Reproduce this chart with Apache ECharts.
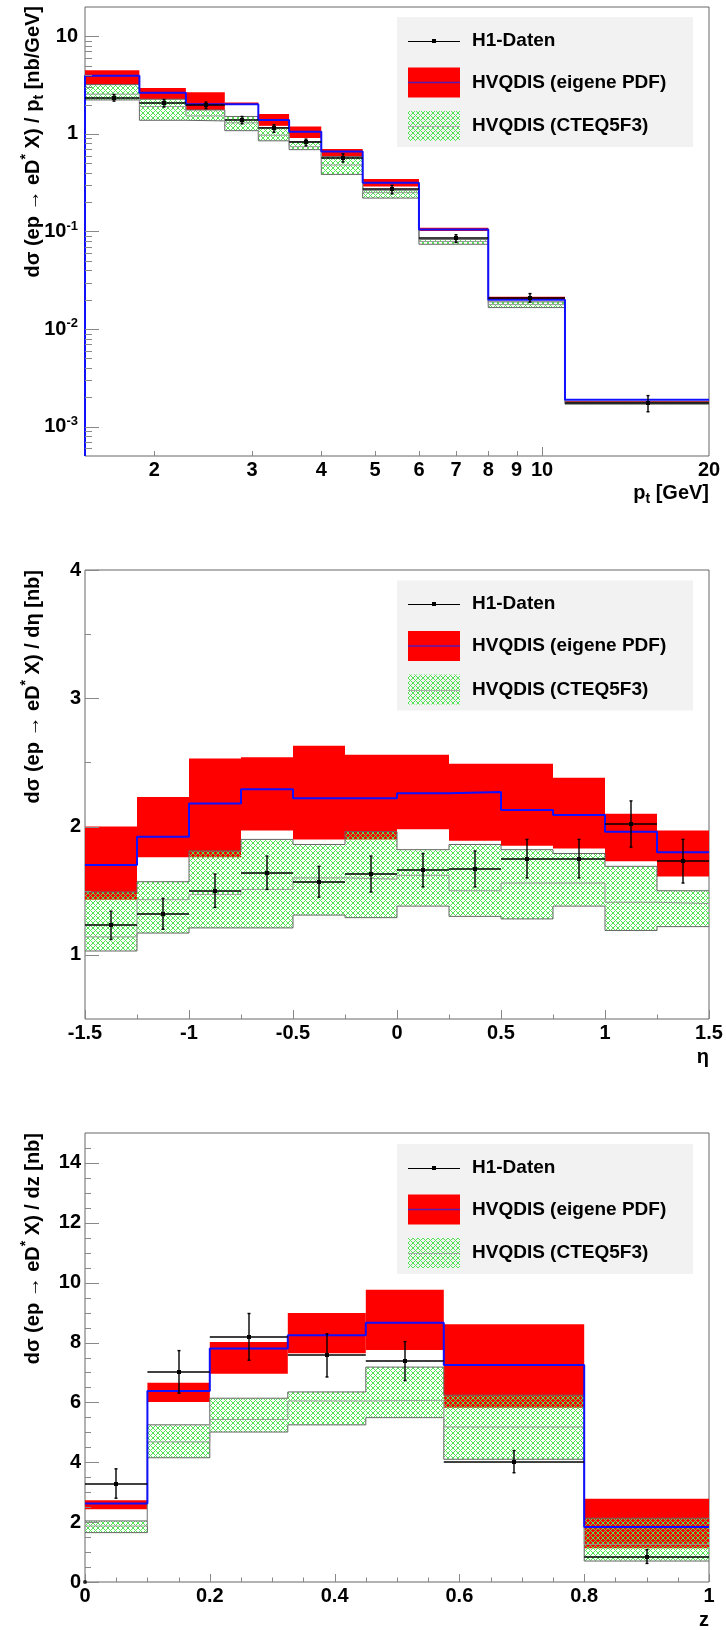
<!DOCTYPE html>
<html>
<head>
<meta charset="utf-8">
<script src="https://cdn.jsdelivr.net/npm/echarts@6/dist/echarts.min.js"></script>
<style>
  html, body { margin: 0; padding: 0; background: #fff; }
  #chart { width: 726px; height: 1630px; }
</style>
</head>
<body>
<div id="chart"></div>
<script>
// --- p_t spectrum ---
const ptEdges = [1.5, 1.88, 2.28, 2.68, 3.08, 3.5, 4.0, 4.75, 6, 8, 11, 20];
const ptEigHi = [4.5, 2.95, 2.68, 2.10, 1.60, 1.19, 0.70, 0.345, 0.109, 0.0215, 0.00183];
const ptEigMid = [3.95, 2.65, 2.02, 2.02, 1.39, 1.05, 0.66, 0.316, 0.105, 0.0200, 0.00189];
const ptEigLo = [3.2, 2.27, 1.76, 1.98, 1.21, 0.91, 0.585, 0.29, 0.101, 0.0198, 0.00176];
const ptCtqHi = [3.2, 2.27, 1.76, 1.51, 1.16, 0.83, 0.585, 0.265, 0.083, 0.0190, 0.00179];
const ptCtqMid = [2.56, 1.91, 1.53, 1.30, 0.97, 0.74, 0.48, 0.25, 0.079, 0.0178, 0.00174];
const ptCtqLo = [2.23, 1.38, 1.36, 1.08, 0.85, 0.69, 0.385, 0.22, 0.074, 0.0166, 0.00170];
const ptData = [2.35, 2.07, 1.97, 1.39, 1.14, 0.82, 0.57, 0.27, 0.085, 0.021, 0.00175];
const ptErr = [0.18, 0.18, 0.15, 0.12, 0.10, 0.065, 0.055, 0.027, 0.0077, 0.0021, 0.00033];
const ptRangeX = [1.5, 20];
const ptRangeY = [5e-4, 20];
const ptXShortTicks = [2, 3, 4, 5, 6, 7, 8, 9];
const ptXLongTicks = [10];
const ptXLabels = [2, 3, 4, 5, 6, 7, 8, 9, 10, 20];
const ptYMajor = [1e-3, 1e-2, 1e-1, 1, 10];

// --- eta spectrum ---
const etaEdges = [-1.5, -1.25, -1, -0.75, -0.5, -0.25, 0, 0.25, 0.5, 0.75, 1, 1.25, 1.5];
const etaEigHi = [2.00, 2.23, 2.53, 2.54, 2.63, 2.56, 2.56, 2.49, 2.49, 2.38, 2.10, 1.97];
const etaEigMid = [1.70, 1.92, 2.18, 2.29, 2.22, 2.22, 2.26, 2.27, 2.13, 2.09, 1.96, 1.80];
const etaEigLo = [1.43, 1.76, 1.76, 1.97, 1.90, 1.90, 1.98, 1.89, 1.85, 1.83, 1.73, 1.61];
const etaCtqHi = [1.49, 1.57, 1.81, 1.90, 1.86, 1.96, 1.82, 1.86, 1.82, 1.79, 1.69, 1.50];
const etaCtqMid = [1.14, 1.43, 1.47, 1.51, 1.60, 1.59, 1.62, 1.50, 1.56, 1.56, 1.41, 1.40];
const etaCtqLo = [1.03, 1.17, 1.21, 1.21, 1.31, 1.29, 1.38, 1.30, 1.28, 1.38, 1.19, 1.22];
const etaData = [1.23, 1.32, 1.50, 1.64, 1.57, 1.63, 1.66, 1.67, 1.75, 1.75, 2.02, 1.73];
const etaErr = [0.11, 0.12, 0.13, 0.13, 0.12, 0.14, 0.13, 0.14, 0.15, 0.15, 0.18, 0.17];
const etaRangeX = [-1.5, 1.5];
const etaRangeY = [0.5, 4];
const etaXMajor = [-1.5, -1, -0.5, 0, 0.5, 1, 1.5];
const etaXMinor = [-1.25, -0.75, -0.25, 0.25, 0.75, 1.25];
const etaYMajor = [1, 2, 3, 4];
const etaYMinor = [1.5, 2.5, 3.5];

// --- z spectrum ---
const zEdges = [0, 0.1, 0.2, 0.325, 0.45, 0.575, 0.8, 1.0];
const zEigHi = [2.73, 6.66, 8.02, 8.99, 9.76, 8.61, 2.78];
const zEigMid = [2.62, 6.38, 7.80, 8.24, 8.66, 7.25, 1.84];
const zEigLo = [2.43, 6.01, 6.96, 7.64, 7.75, 5.82, 1.13];
const zCtqHi = [2.04, 5.25, 6.14, 6.35, 7.18, 6.24, 2.13];
const zCtqMid = [1.87, 4.68, 5.43, 6.05, 6.07, 5.18, 1.26];
const zCtqLo = [1.65, 4.15, 5.01, 5.25, 5.49, 4.10, 0.70];
const zData = [3.29, 7.02, 8.19, 7.57, 7.38, 4.02, 0.85];
const zErr = [0.49, 0.71, 0.78, 0.72, 0.65, 0.37, 0.23];
const zOriginPoint = [0, 0];
const zRangeX = [0, 1];
const zRangeY = [0, 15];
const zXMajor = [0, 0.2, 0.4, 0.6, 0.8, 1];
const zYMajor = [0, 2, 4, 6, 8, 10, 12, 14];

const FONT = "'Liberation Sans', Arial, Helvetica, sans-serif";
const RED = '#ff0000';
const BLUE = '#1010ff';
const TICK = '#888888';
const GRID_TOPS = [7, 570, 1133];
const GRID_H = 449;
const FS = 20;

// green cross hatch like ROOT style 3144
function makeHatch() {
  const c = document.createElement('canvas');
  c.width = 10; c.height = 10;
  const ctx = c.getContext('2d');
  ctx.fillStyle = 'rgb(85, 228, 85)';
  for (let i = 0; i < 10; i++) {
    for (let j = 0; j < 10; j++) {
      if ((i - j + 10) % 5 === 0 || (i + j) % 5 === 0) ctx.fillRect(i, j, 1, 1);
    }
  }
  return c;
}
const hatch = makeHatch();
const hatchFill = { image: hatch, repeat: 'repeat' };

// minor tick values (not data)
function logMinors(lo, hi) {
  const out = [];
  for (let e = -5; e <= 2; e++) {
    for (let k = 2; k <= 9; k++) {
      const v = k * Math.pow(10, e);
      if (v > lo && v < hi) out.push(v);
    }
  }
  return out;
}
function linMinors(lo, hi, step, majors) {
  const out = [];
  for (let v = lo; v <= hi + 1e-9; v += step) {
    const r = Math.round(v * 1000) / 1000;
    if (!majors.some(m => Math.abs(m - r) < 1e-6) && r > lo && r < hi) out.push(r);
  }
  return out;
}

function crisp(v) { return Math.round(v) + 0.5; }

function bandRect(api, fill) {
  const a = api.coord([api.value(0), api.value(3)]);
  const b = api.coord([api.value(1), api.value(2)]);
  return {
    type: 'rect',
    shape: { x: a[0], y: a[1], width: b[0] - a[0], height: b[1] - a[1] },
    style: { fill: fill }
  };
}

function dataMark(api) {
  const xc = api.value(0), v = api.value(1), e = api.value(2);
  const pc = api.coord([xc, v]);
  const pl = api.coord([api.value(3), v]);
  const pr = api.coord([api.value(4), v]);
  const pt = api.coord([xc, v + e]);
  const pb = api.coord([xc, v - e]);
  const ln = { stroke: '#000', lineWidth: 1.4 };
  const x = crisp(pc[0]) - 0.5, y = crisp(pc[1]) - 0.5;
  return {
    type: 'group',
    children: [
      { type: 'line', shape: { x1: pl[0], y1: y, x2: pr[0], y2: y }, style: ln },
      { type: 'line', shape: { x1: x, y1: pt[1], x2: x, y2: pb[1] }, style: ln },
      { type: 'line', shape: { x1: x - 1.5, y1: pt[1], x2: x + 1.5, y2: pt[1] }, style: ln },
      { type: 'line', shape: { x1: x - 1.5, y1: pb[1], x2: x + 1.5, y2: pb[1] }, style: ln },
      { type: 'rect', shape: { x: x - 2, y: y - 2, width: 4, height: 4 }, style: { fill: '#000' } }
    ]
  };
}

function tickMark(api) {
  const p = api.coord([api.value(0), api.value(1)]);
  const len = api.value(2);
  if (api.value(3) === 0) {
    const y = crisp(p[1]);
    return { type: 'line', shape: { x1: p[0], y1: y, x2: p[0] + len, y2: y }, style: { stroke: TICK, lineWidth: 1 } };
  }
  const x = crisp(p[0]);
  return { type: 'line', shape: { x1: x, y1: p[1], x2: x, y2: p[1] - len }, style: { stroke: TICK, lineWidth: 1 } };
}

function stepPoints(edges, vals, floor) {
  const pts = [];
  if (floor !== undefined) pts.push([edges[0], floor]);
  vals.forEach((v, i) => pts.push([edges[i], v]));
  pts.push([edges[edges.length - 1], vals[vals.length - 1]]);
  return pts;
}

function stepLine(idx, pts, color, width, z) {
  return {
    type: 'line', xAxisIndex: idx, yAxisIndex: idx, data: pts, step: 'end',
    symbol: 'none', silent: true, z: z, animation: false,
    lineStyle: { color: color, width: width }
  };
}

function panelSeries(idx, edges, eigLo, eigHi, eigMid, ctqLo, ctqHi, ctqMid, data, err, floor) {
  const bins = eigLo.map((_, i) => [edges[i], edges[i + 1]]);
  return [
    {
      type: 'custom', xAxisIndex: idx, yAxisIndex: idx, z: 1, silent: true,
      data: bins.map((b, i) => [b[0], b[1], eigLo[i], eigHi[i]]),
      renderItem: (p, api) => bandRect(api, RED)
    },
    {
      type: 'custom', xAxisIndex: idx, yAxisIndex: idx, z: 2, silent: true,
      data: bins.map((b, i) => [b[0], b[1], ctqLo[i], ctqHi[i]]),
      renderItem: (p, api) => bandRect(api, hatchFill)
    },
    stepLine(idx, stepPoints(edges, ctqHi), '#666', 1, 3),
    stepLine(idx, stepPoints(edges, ctqLo), '#666', 1, 3),
    stepLine(idx, stepPoints(edges, ctqMid), '#999', 1, 3),
    stepLine(idx, stepPoints(edges, eigMid, floor), BLUE, 2, 4),
    {
      type: 'custom', xAxisIndex: idx, yAxisIndex: idx, z: 5, silent: true,
      data: bins.map((b, i) => [(b[0] + b[1]) / 2, data[i], err[i], b[0], b[1]]),
      renderItem: (p, api) => dataMark(api)
    }
  ];
}

function tickSeries(idx, xMin, yMin, xMajor, xMinor, xLong, xShort, yMajor, yMinor, yLong, yShort) {
  const items = [];
  xMajor.forEach(v => items.push([v, yMin, xLong, 1]));
  xMinor.forEach(v => items.push([v, yMin, xShort, 1]));
  yMajor.forEach(v => items.push([xMin, v, yLong, 0]));
  yMinor.forEach(v => items.push([xMin, v, yShort, 0]));
  return {
    type: 'custom', xAxisIndex: idx, yAxisIndex: idx, z: 6, silent: true,
    data: items, renderItem: (p, api) => tickMark(api)
  };
}

const labelStyle = { color: '#000', fontSize: FS, fontWeight: 'bold', fontFamily: FONT };
const supStyle = { fontSize: 13, fontWeight: 'bold', fontFamily: FONT, color: '#000', lineHeight: 13, verticalAlign: 'top' };
const subStyle = { fontSize: 13, fontWeight: 'bold', fontFamily: FONT, color: '#000', lineHeight: 13, verticalAlign: 'bottom' };

function baseAxis(idx, type, range, extra) {
  return Object.assign({
    gridIndex: idx, type: type, min: range[0], max: range[1],
    axisLine: { show: false }, axisTick: { show: false }, splitLine: { show: false },
    minorTick: { show: false }, minorSplitLine: { show: false }
  }, extra);
}

function decadeLabel(v) {
  const l = Math.log10(v);
  const e = Math.round(l);
  if (Math.abs(l - e) > 1e-6) return '';
  if (e === 0) return '1';
  if (e === 1) return '10';
  return '10{sup|' + e + '}';
}

const grids = GRID_TOPS.map(t => ({
  left: 85, top: t, width: 624, height: GRID_H,
  show: true, borderColor: '#666', borderWidth: 1, backgroundColor: 'transparent',
  containLabel: false, outerBoundsMode: 'none'
}));

const xAxes = [
  baseAxis(0, 'log', ptRangeX, { axisLabel: { show: false } }),
  baseAxis(1, 'value', etaRangeX, {
    interval: 0.5,
    axisLabel: Object.assign({ margin: 4, formatter: v => String(v) }, labelStyle)
  }),
  baseAxis(2, 'value', zRangeX, {
    interval: 0.2,
    axisLabel: Object.assign({ margin: 4, formatter: v => String(Math.round(v * 10) / 10) }, labelStyle)
  })
];

const yAxes = [
  baseAxis(0, 'log', ptRangeY, {
    axisLabel: Object.assign({ margin: 7, lineHeight: 24, formatter: decadeLabel, rich: { sup: supStyle } }, labelStyle)
  }),
  baseAxis(1, 'value', etaRangeY, {
    interval: 0.5,
    axisLabel: Object.assign({ margin: 4, formatter: v => (Math.abs(v - Math.round(v)) < 1e-6 ? String(Math.round(v)) : '') }, labelStyle)
  }),
  baseAxis(2, 'value', zRangeY, {
    interval: 1,
    axisLabel: Object.assign({ margin: 4, formatter: v => (Math.round(v) % 2 === 0 && v < 15 ? String(Math.round(v)) : '') }, labelStyle)
  })
];

// p_t axis labels drawn from the log scale
const ptXLabelSeries = {
  type: 'custom', xAxisIndex: 0, yAxisIndex: 0, z: 6, silent: true,
  data: ptXLabels.map(v => [v, ptRangeY[0]]),
  renderItem: (p, api) => {
    const c = api.coord([api.value(0), api.value(1)]);
    return {
      type: 'text', x: c[0], y: c[1] + 4,
      style: { text: String(api.value(0)), fill: '#000', fontSize: FS, fontWeight: 'bold', fontFamily: FONT, align: 'center', verticalAlign: 'top' }
    };
  }
};

const series = [].concat(
  panelSeries(0, ptEdges, ptEigLo, ptEigHi, ptEigMid, ptCtqLo, ptCtqHi, ptCtqMid, ptData, ptErr, ptRangeY[0]),
  panelSeries(1, etaEdges, etaEigLo, etaEigHi, etaEigMid, etaCtqLo, etaCtqHi, etaCtqMid, etaData, etaErr),
  panelSeries(2, zEdges, zEigLo, zEigHi, zEigMid, zCtqLo, zCtqHi, zCtqMid, zData, zErr),
  [
    tickSeries(0, ptRangeX[0], ptRangeY[0], ptXLongTicks, ptXShortTicks, 9, 5, ptYMajor, logMinors(ptRangeY[0], ptRangeY[1]), 14, 7),
    tickSeries(1, etaRangeX[0], etaRangeY[0], etaXMajor, etaXMinor, 9, 4.5, etaYMajor, etaYMinor, 14, 6),
    tickSeries(2, zRangeX[0], zRangeY[0], zXMajor, linMinors(0, 1, 0.05, zXMajor), 8, 4.5, zYMajor, linMinors(0, 15, 0.5, zYMajor), 14, 6),
    ptXLabelSeries,
    {
      type: 'scatter', xAxisIndex: 2, yAxisIndex: 2, z: 7, silent: true,
      data: [zOriginPoint], symbol: 'circle', symbolSize: 4, itemStyle: { color: '#000' }
    }
  ]
);

function legendGraphic(top) {
  const L = 397, sx0 = 408, sx1 = 460, tx = 472;
  const y1 = top + 23.5, y2 = top + 65.5, y3 = top + 109;
  const txt = (y, s) => ({
    type: 'text', x: tx, y: y, z: 22,
    style: { text: s, fill: '#000', fontSize: 19, fontWeight: 'bold', fontFamily: FONT, align: 'left', verticalAlign: 'middle' }
  });
  return [
    { type: 'rect', z: 20, shape: { x: L, y: top, width: 296, height: 130 }, style: { fill: '#f2f2f2' } },
    { type: 'line', z: 21, shape: { x1: sx0, y1: crisp(y1), x2: sx1, y2: crisp(y1) }, style: { stroke: '#000', lineWidth: 1 } },
    { type: 'rect', z: 21, shape: { x: 432, y: crisp(y1) - 2.5, width: 4, height: 4 }, style: { fill: '#000' } },
    { type: 'rect', z: 21, shape: { x: sx0, y: y2 - 15, width: 52, height: 30 }, style: { fill: RED } },
    { type: 'line', z: 22, shape: { x1: sx0, y1: y2, x2: sx1, y2: y2 }, style: { stroke: '#5a1ab0', lineWidth: 1.5 } },
    { type: 'rect', z: 21, shape: { x: sx0, y: y3 - 15, width: 52, height: 30 }, style: { fill: hatchFill } },
    { type: 'line', z: 22, shape: { x1: sx0, y1: crisp(y3), x2: sx1, y2: crisp(y3) }, style: { stroke: '#aaa', lineWidth: 1 } },
    txt(y1, 'H1-Daten'),
    txt(y2, 'HVQDIS (eigene PDF)'),
    txt(y3, 'HVQDIS (CTEQ5F3)')
  ];
}

const richTitle = {
  sup: Object.assign({}, supStyle, { fontSize: 14 }),
  sub: Object.assign({}, subStyle, { fontSize: 14 })
};
function yTitle(top, text) {
  return {
    type: 'text', x: 33, y: top, rotation: Math.PI / 2, z: 22,
    style: {
      text: text, rich: richTitle, fill: '#000', fontSize: FS, fontWeight: 'bold', fontFamily: FONT,
      lineHeight: 27, align: 'right', verticalAlign: 'middle'
    }
  };
}
function xTitle(y, text) {
  return {
    type: 'text', x: 709, y: y, z: 22,
    style: {
      text: text, rich: richTitle, fill: '#000', fontSize: FS, fontWeight: 'bold', fontFamily: FONT,
      lineHeight: 27, align: 'right', verticalAlign: 'middle'
    }
  };
}

const graphic = [].concat(
  legendGraphic(17),
  legendGraphic(580.5),
  legendGraphic(1144),
  [
    yTitle(GRID_TOPS[0] - 1, 'd\u03c3 (ep \u2192 eD{sup|*} X) / p{sub|t} [nb/GeV]'),
    yTitle(GRID_TOPS[1], 'd\u03c3 (ep \u2192 eD{sup|*} X) / d\u03b7 [nb]'),
    yTitle(GRID_TOPS[2], 'd\u03c3 (ep \u2192 eD{sup|*} X) / dz [nb]'),
    xTitle(GRID_TOPS[0] + GRID_H + 37, 'p{sub|t} [GeV]'),
    xTitle(GRID_TOPS[1] + GRID_H + 38, '\u03b7'),
    xTitle(GRID_TOPS[2] + GRID_H + 38, 'z')
  ]
);

const chart = echarts.init(document.getElementById('chart'), null, { renderer: 'canvas' });
chart.setOption({
  animation: false,
  backgroundColor: '#fff',
  grid: grids,
  xAxis: xAxes,
  yAxis: yAxes,
  series: series,
  graphic: graphic
});
</script>
</body>
</html>
